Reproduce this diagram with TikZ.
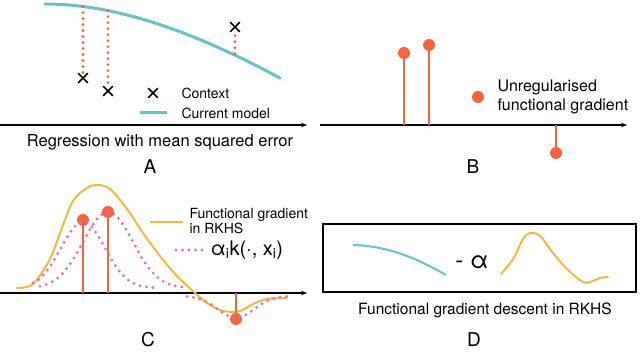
\documentclass[tikz,border=0pt]{standalone}
\usepackage{fontspec}
\setmainfont{TeX Gyre Heros}
\usepackage{xcolor}
\usepackage{tikz}
\usetikzlibrary{arrows.meta, calc, shapes.misc}

\definecolor{modelteal}{RGB}{102,194,200}
\definecolor{gradred}{RGB}{242,100,64}
\definecolor{rkhsgold}{RGB}{240,184,64}
\definecolor{kernpink}{RGB}{228,111,166}

\begin{document}
\begin{tikzpicture}[x=1pt, y=-1pt, >={Stealth[length=6pt, width=4.5pt]},
    axis/.style={->, line width=1.3pt},
    errline/.style={gradred, line width=3.2pt, line cap=round, dash pattern=on 0pt off 6pt},
    ctx/.style={cross out, draw=black, line width=1.6pt, minimum size=8pt, inner sep=0pt},
    gdot/.style={circle, fill=gradred, minimum size=12pt, inner sep=0pt},
    stem/.style={gradred, line width=1.6pt},
    kern/.style={kernpink, line width=3.2pt, line cap=round, dash pattern=on 0pt off 6.5pt},
    lbl/.style={font=\fontsize{14}{15}\selectfont, anchor=west, align=left},
    caption/.style={font=\fontsize{16.5}{18}\selectfont},
    panel/.style={font=\fontsize{19}{21}\selectfont}]
    \useasboundingbox (0,0) rectangle (640,352);

    % A: regression
    \draw[modelteal, line width=3pt, line cap=round] (45,4) .. controls (120,4) and (200,35) .. (280,78)
        coordinate[pos=0.17] (m1) coordinate[pos=0.275] (m2) coordinate[pos=0.80] (m3);
    \node[ctx] (x1) at (83,78) {};
    \node[ctx] (x2) at (108,91) {};
    \node[ctx] (x3) at (235,27) {};
    \draw[errline] (x1 |- m1) -- ([yshift=-2pt]x1.north);
    \draw[errline] (x2 |- m2) -- ([yshift=-2pt]x2.north);
    \draw[errline] (x3 |- m3) -- ([yshift=2pt]x3.south);

    % legend A
    \node[ctx] (ctxkey) at (153,93) {};
    \node[lbl] (ctxtxt) at (178,93) {Context};
    \draw[modelteal, line width=3pt] (140,113) -- (167,113);
    \node[lbl] (modtxt) at (178,113) {Current model};

    \coordinate (axA) at (0,125);
    \draw[axis] (axA) -- (307,125);
    \node[caption] (capA) at (160,142) {Regression with mean squared error};
    \node[panel] (labA) at (150,167) {A};

    % B: unregularised gradient
    \coordinate (axB) at (320,125);
    \draw[axis] (axB) -- (627,125);
    \node[gdot] (b1) at (404,53) {};
    \node[gdot] (b2) at (429,45) {};
    \node[gdot] (b3) at (556,153) {};
    \foreach \d in {b1,b2,b3}
        \draw[stem] (\d) -- (\d |- axB);
    \node[gdot] (bkey) at (478,97) {};
    \node[lbl, font=\fontsize{16}{19}\selectfont] (btxt) at (494,97) {Unregularised\\functional gradient};
    \node[panel] (labB) at (473,167) {B};

    % C: gradient in RKHS
    \coordinate (axC) at (0,293);
    \draw[axis] (axC) -- (307,293);
    \draw[rkhsgold, line width=2pt, line cap=round] plot[smooth, tension=0.55] coordinates {
        (17,288) (33,284) (50,259) (60,233) (73,201) (87,188) (97,185) (110,189)
        (127,209) (143,233) (160,256) (177,276) (193,291) (207,303) (223,311)
        (240,311) (253,304) (267,299) (287,298)};
    \node[gdot] (c1) at (83,220) {};
    \node[gdot] (c2) at (108,212) {};
    \node[gdot] (c3) at (236,319) {};
    \foreach \d in {c1,c2,c3}
        \draw[stem] (\d) -- (\d |- axC);
    \draw[kern] plot[domain=33:158, samples=60] (\x, {288-66*exp(-(\x-83)^2/968)});
    \draw[kern] plot[domain=40:185, samples=60] (\x, {288-76*exp(-(\x-108)^2/1250)});
    \draw[kern] plot[domain=187:287, samples=50] (\x, {296+22*exp(-(\x-236)^2/648)});

    % legend C
    \draw[rkhsgold, line width=2pt] (150,222) -- (183,222);
    \node[lbl] (ctxt) at (186,221) {Functional gradient\\in RKHS};
    \draw[kern] (176,250) -- (204,250);
    \node[lbl, font=\fontsize{20}{22}\selectfont] (ktxt) at (207,250) {α\textsubscript{i}k(·, x\textsubscript{i})};
    \node[panel] (labC) at (148,340) {C};

    % D: descent step
    \node[draw, line width=1.6pt, minimum width=313pt, minimum height=68pt, inner sep=0pt] (box) at (479.5,258) {};
    \draw[modelteal, line width=2pt] (353,245) .. controls (390,246) and (420,260) .. (446,275);
    \node[font=\fontsize{24}{26}\selectfont] (alpha) at (472,262) {- α};
    \draw[rkhsgold, line width=2pt, line cap=round] plot[smooth, tension=0.55] coordinates {
        (501,274) (513,259) (523,239) (530,233) (540,236) (553,253) (567,269)
        (583,282) (593,281) (600,278) (608,277)};
    \node[caption, font=\fontsize{15.5}{17}\selectfont] (capD) at (485,310) {Functional gradient descent in RKHS};
    \node[panel] (labD) at (474,340) {D};
\end{tikzpicture}
\end{document}
